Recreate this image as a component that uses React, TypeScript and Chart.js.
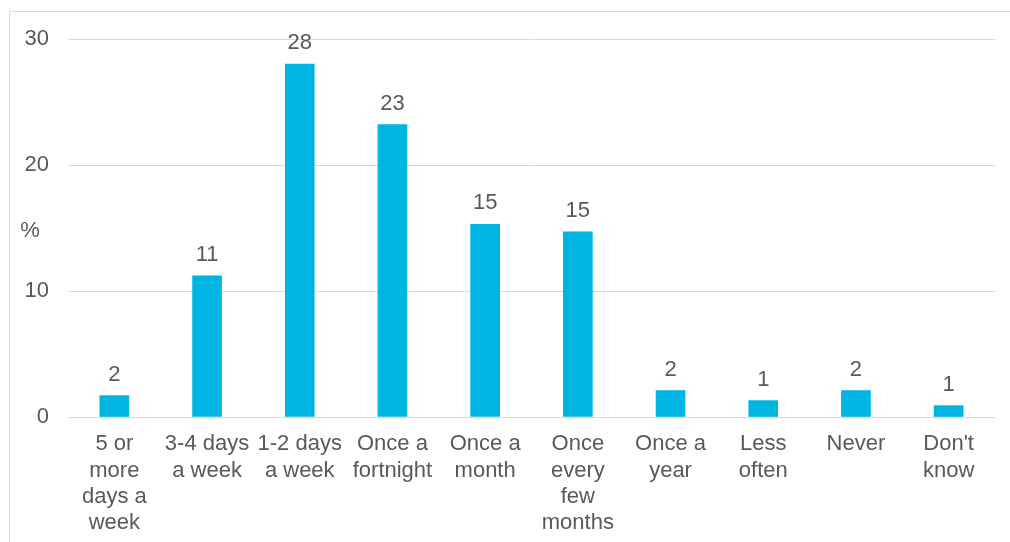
import React, { useEffect, useRef } from "react";
import { Chart, registerables } from "chart.js";

Chart.register(...registerables);

// Survey frequency categories (multi-line axis labels)
const categories: string[][] = [
  ["5 or", "more", "days a", "week"],
  ["3-4 days", "a week"],
  ["1-2 days", "a week"],
  ["Once a", "fortnight"],
  ["Once a", "month"],
  ["Once", "every", "few", "months"],
  ["Once a", "year"],
  ["Less", "often"],
  ["Never"],
  ["Don't", "know"],
];

// Share of respondents, %
const values: number[] = [1.7, 11.2, 28.0, 23.2, 15.3, 14.7, 2.1, 1.3, 2.1, 0.9];

const yTicks: number[] = [0, 10, 20, 30];

const FONT = "'Liberation Sans', Arial, sans-serif";
const TEXT = "#595959";
const GRID = "#d9d9d9";
const BAR = "#00b5e2";

// Rounded value above each bar
const valueLabels = {
  id: "valueLabels",
  afterDatasetsDraw(chart: any) {
    const ctx = chart.ctx;
    const meta = chart.getDatasetMeta(0);
    ctx.save();
    ctx.fillStyle = TEXT;
    ctx.font = `22px ${FONT}`;
    ctx.textAlign = "center";
    ctx.textBaseline = "alphabetic";
    meta.data.forEach((bar: any, i: number) => {
      ctx.fillText(String(Math.round(values[i])), bar.x, bar.y - 15);
    });
    ctx.restore();
  },
};

// Outer frame and the horizontal "%" unit label
const frameAndUnit = {
  id: "frameAndUnit",
  beforeDraw(chart: any) {
    const ctx = chart.ctx;
    ctx.save();
    ctx.strokeStyle = GRID;
    ctx.lineWidth = 1;
    ctx.strokeRect(9.5, 11.5, chart.width + 20, chart.height + 20);
    ctx.restore();
  },
  afterDraw(chart: any) {
    const ctx = chart.ctx;
    ctx.save();
    ctx.fillStyle = TEXT;
    ctx.font = `22px ${FONT}`;
    ctx.textAlign = "center";
    ctx.textBaseline = "alphabetic";
    ctx.fillText("%", 30, 237);
    ctx.restore();
  },
};

export default function App() {
  const canvasRef = useRef<HTMLCanvasElement | null>(null);

  useEffect(() => {
    if (!canvasRef.current) return;
    const chart = new Chart(canvasRef.current, {
      type: "bar",
      data: {
        labels: categories,
        datasets: [
          {
            data: values,
            backgroundColor: BAR,
            barThickness: 29,
          },
        ],
      },
      options: {
        animation: false,
        responsive: false,
        maintainAspectRatio: false,
        layout: { padding: { top: 39, right: 15, left: 0, bottom: 0 } },
        plugins: {
          legend: { display: false },
          tooltip: { enabled: false },
        },
        scales: {
          x: {
            grid: { display: false, drawTicks: false },
            border: { display: false },
            ticks: {
              autoSkip: false,
              maxRotation: 0,
              minRotation: 0,
              padding: 14,
              color: TEXT,
              font: { family: FONT, size: 22, lineHeight: 1.2 },
            },
            afterFit: (scale: any) => {
              scale.height = 125;
            },
          },
          y: {
            min: 0,
            max: 30,
            afterBuildTicks: (scale: any) => {
              scale.ticks = yTicks.map((v) => ({ value: v }));
            },
            grid: { color: GRID, lineWidth: 1, drawTicks: false },
            border: { display: false },
            ticks: {
              padding: 19,
              color: TEXT,
              font: { family: FONT, size: 22 },
            },
            afterFit: (scale: any) => {
              scale.width = 68;
            },
          },
        },
      },
      plugins: [valueLabels, frameAndUnit],
    });
    return () => chart.destroy();
  }, []);

  return (
    <div style={{ position: "fixed", left: 0, top: 0, width: 1010, height: 542, background: "#fff" }}>
      <canvas ref={canvasRef} width={1010} height={542} style={{ display: "block" }} />
    </div>
  );
}
